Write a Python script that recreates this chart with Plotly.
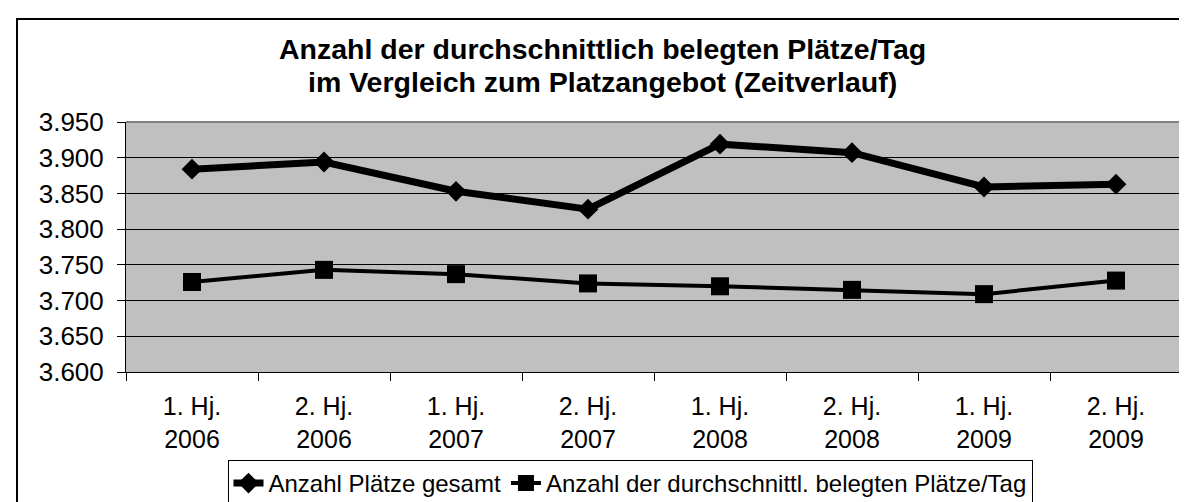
import plotly.graph_objects as go

categories = ["1. Hj.<br>2006", "2. Hj.<br>2006", "1. Hj.<br>2007", "2. Hj.<br>2007",
              "1. Hj.<br>2008", "2. Hj.<br>2008", "1. Hj.<br>2009", "2. Hj.<br>2009"]
plaetze_gesamt = [3884, 3894, 3853, 3828, 3919, 3907, 3859, 3863]
plaetze_belegt = [3726, 3743, 3737, 3724, 3720, 3715, 3709, 3728]
series_names = ["Anzahl Plätze gesamt", "Anzahl der durchschnittl. belegten Plätze/Tag"]
title_lines = ["Anzahl der durchschnittlich belegten Plätze/Tag",
               "im Vergleich zum Platzangebot (Zeitverlauf)"]

W, H = 1187, 502
L, R, T, B = 118, 1174, 114, 364
pw, ph = R - L, B - T

def px_x(px):
    return (px - L) / pw

def px_y(py):
    return (B - py) / ph

FONT = "Liberation Sans, Arial, sans-serif"

fig = go.Figure()
fig.add_trace(go.Scatter(
    x=categories, y=plaetze_gesamt, name=series_names[0], mode="lines+markers",
    line=dict(color="black", width=7),
    marker=dict(symbol="diamond", size=16, color="black"),
))
fig.add_trace(go.Scatter(
    x=categories, y=plaetze_belegt, name=series_names[1], mode="lines+markers",
    line=dict(color="black", width=4),
    marker=dict(symbol="square", size=18, color="black"),
))

title_annotations = [
    dict(text="<b>%s</b>" % t, xref="paper", yref="paper", x=px_x(594), y=px_y(yc),
         xanchor="center", yanchor="middle", showarrow=False,
         font=dict(family=FONT, size=28.5, color="black"))
    for t, yc in zip(title_lines, [41, 74])
]

fig.update_layout(
    width=W, height=H,
    margin=dict(l=L, r=W - R, t=T, b=H - B, autoexpand=False),
    paper_bgcolor="white",
    plot_bgcolor="#C0C0C0",
    separators=",.",
    font=dict(family=FONT, size=25, color="black"),
    showlegend=True,
    legend=dict(
        orientation="h", x=px_x(622), xanchor="center", y=px_y(499), yanchor="bottom",
        bgcolor="white", bordercolor="black", borderwidth=1,
        font=dict(family=FONT, size=24, color="black"),
        itemsizing="trace", tracegroupgap=0,
    ),
    xaxis=dict(
        type="category", tickson="boundaries", ticks="outside", ticklen=8,
        tickcolor="black", tickwidth=1, showline=True, linecolor="black", linewidth=1,
        showgrid=False, tickfont=dict(family=FONT, size=25, color="black"),
        ticklabelstandoff=12,
        range=[-0.5, 7.5], fixedrange=True,
    ),
    yaxis=dict(
        range=[3600, 3950], dtick=50, tick0=3600, tickformat=",d",
        ticks="outside", ticklen=8, tickcolor="black", tickwidth=1,
        showline=True, linecolor="black", linewidth=1,
        showgrid=True, gridcolor="black", gridwidth=1, zeroline=False,
        tickfont=dict(family=FONT, size=26, color="black"), fixedrange=True,
        ticklabelstandoff=8,
    ),
    annotations=title_annotations,
    shapes=[
        dict(type="line", xref="paper", yref="paper", x0=0, x1=1, y0=1, y1=1,
             line=dict(color="#808080", width=2), layer="above"),
        dict(type="line", xref="paper", yref="paper", x0=1, x1=1, y0=0, y1=1,
             line=dict(color="#808080", width=2), layer="above"),
        dict(type="rect", xref="paper", yref="paper", x0=px_x(9), x1=px_x(1200),
             y0=px_y(520), y1=px_y(11), line=dict(color="black", width=2),
             fillcolor="rgba(0,0,0,0)", layer="below"),
    ],
)

fig.write_html("out.html")
